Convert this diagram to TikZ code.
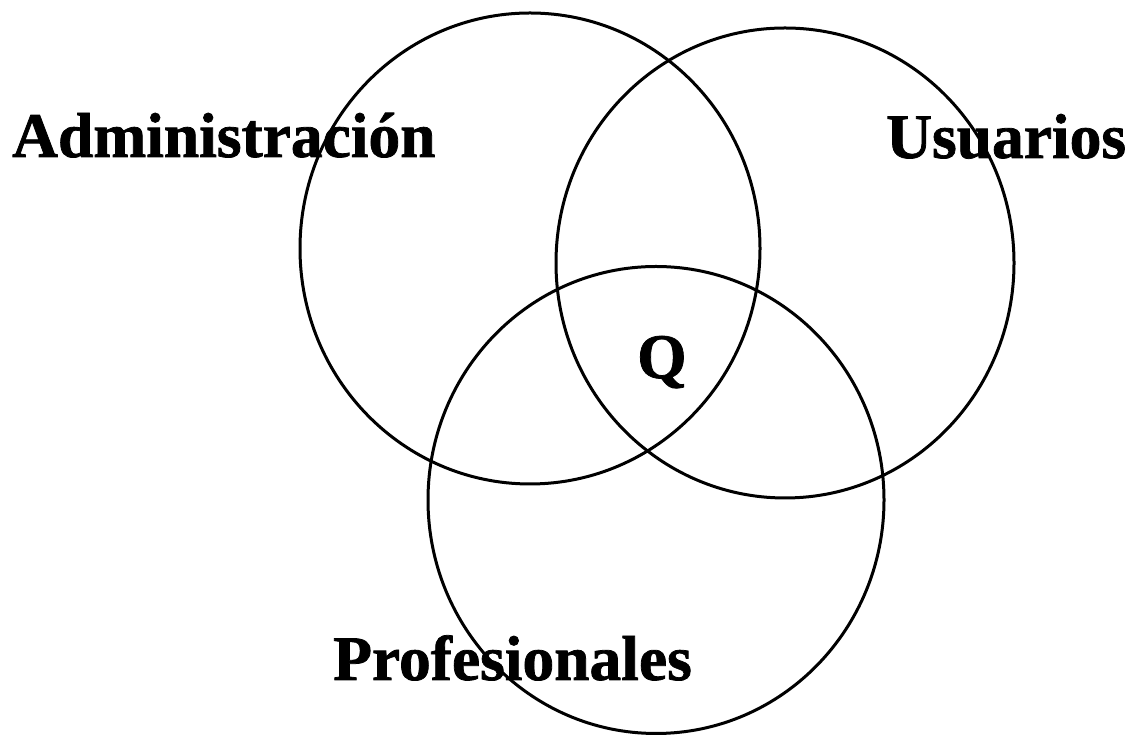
\documentclass[tikz,border=0pt]{standalone}
\usepackage{fontspec}
\setmainfont{Liberation Serif}
\newfontfamily\heavyserif[FakeBold=1.2]{Liberation Serif Bold}
\begin{document}
\begin{tikzpicture}[x=1pt,y=1pt,
  ring/.style={draw=black,line width=3pt},
  lab/.style={anchor=base west,inner sep=0pt,font=\fontsize{63.5}{70}\selectfont\heavyserif}]
\useasboundingbox (0,0) rectangle (1130,735);
\fill[white] (0,0) rectangle (1130,735);
\draw[ring] (530,486.5) ellipse [x radius=230,y radius=235.5];
\draw[ring] (785,472) ellipse [x radius=229,y radius=235];
\draw[ring] (656,235) ellipse [x radius=228,y radius=233.5];
\node[lab] (adm) at (12,578) {Administración};
\node[lab] (usu) at (886,577) {Usuarios};
\node[lab] (pro) at (333,55) {Profesionales};
\node[lab] (q) at (637,357) {Q};
\end{tikzpicture}
\end{document}
